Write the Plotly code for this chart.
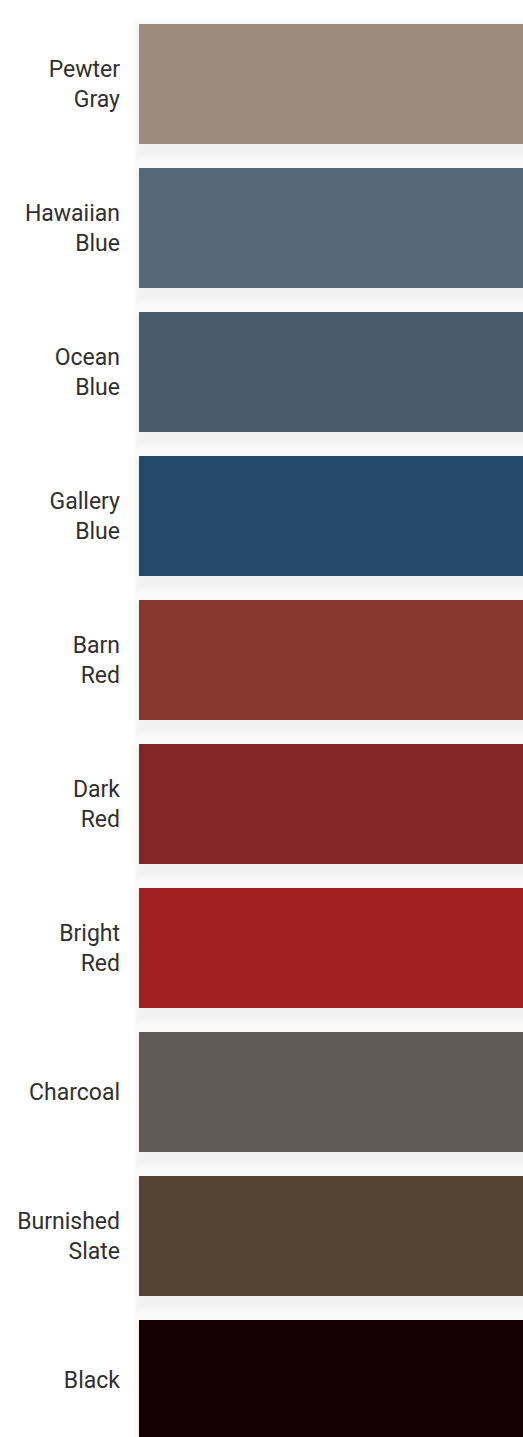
import plotly.graph_objects as go

names = ["Pewter<br>Gray", "Hawaiian<br>Blue", "Ocean<br>Blue", "Gallery<br>Blue", "Barn<br>Red",
         "Dark<br>Red", "Bright<br>Red", "Charcoal", "Burnished<br>Slate", "Black"]
colors = ["#9d8b7f", "#586779", "#4a5a6d", "#26486a", "#87372e",
          "#832526", "#a12023", "#625a54", "#534433", "#120003"]
values = [1] * len(names)

pos = list(range(len(names)))
SLOT = 144.0          # px per category slot
BAR_W = 120.0 / SLOT  # swatch height in slot units
XPX = 384.0           # px per x unit

fig = go.Figure()

# soft drop shadow made of faint translucent layers
for k in range(1, 8):
    s = 2.0 * k
    fig.add_trace(go.Bar(
        orientation="h",
        y=[p + 8.0 / SLOT for p in pos],
        x=[v + s / XPX for v in values],
        base=-s / XPX * 0.4,
        width=BAR_W + 2 * s / SLOT,
        marker=dict(color="rgba(0,0,0,0.007)", line=dict(width=0)),
        hoverinfo="skip", showlegend=False,
    ))

fig.add_trace(go.Bar(
    orientation="h", y=pos, x=values, base=0, width=BAR_W,
    marker=dict(color=colors, line=dict(width=0)),
    hoverinfo="skip", showlegend=False,
))

fig.update_layout(
    width=523, height=1437,
    margin=dict(l=127, r=0, t=0, b=0),
    paper_bgcolor="white", plot_bgcolor="white",
    barmode="overlay",
    font=dict(family="Roboto, sans-serif", size=23, color="#303030", weight=400),
    xaxis=dict(range=[-12 / XPX, 1], visible=False, fixedrange=True),
    yaxis=dict(
        range=[(1437 - 84) / SLOT, -84 / SLOT],
        tickvals=pos, ticktext=names,
        showgrid=False, zeroline=False, showline=False, ticks="",
        ticklabelstandoff=6, fixedrange=True,
    ),
)

fig.write_html("out.html", config={"displayModeBar": False},
               post_script="document.body.style.margin='0';document.body.style.overflow='hidden';")
